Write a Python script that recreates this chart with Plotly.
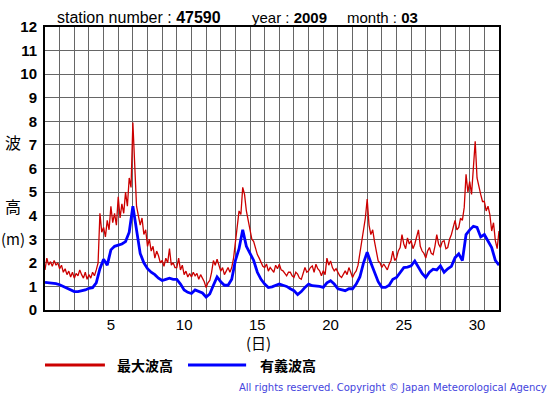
import plotly.graph_objects as go

# maximum wave height, every 3 hours from 1 Mar 00:00 (t = days elapsed)
max_wave = [
    1.7, 2.2, 1.9, 2.05, 1.85, 2.1, 1.9, 2.0,
    1.75, 1.9, 1.6, 1.75, 1.5, 1.65, 1.4, 1.6,
    1.35, 1.55, 1.45, 1.7, 1.5, 1.35, 1.6, 1.3,
    1.5, 1.35, 1.6, 1.45, 1.7, 2.0, 4.1, 3.3,
    3.5, 3.1, 3.8, 3.4, 4.4, 3.7, 4.1, 3.6,
    4.8, 3.9, 4.5, 4.1, 5.0, 4.4, 5.6, 5.2,
    7.95, 5.9, 4.4, 4.0, 3.6, 3.9, 3.2, 3.4,
    2.7, 3.0, 2.5, 2.7, 2.2, 2.5, 2.3, 2.0,
    2.1, 1.85, 2.2, 2.0, 2.6, 1.9, 2.0, 1.8,
    1.8, 2.2, 1.7, 1.9, 1.5, 1.65, 1.4, 1.55,
    1.4, 1.6, 1.45, 1.55, 1.3, 1.5, 1.35, 1.2,
    0.95, 1.15, 1.25, 1.6, 2.1, 1.9, 2.15, 1.9,
    1.65, 1.8, 1.5, 1.65, 1.8, 1.6, 1.8, 2.2,
    2.9, 3.6, 4.2, 4.05, 5.2, 4.9, 4.2, 3.8,
    3.35, 3.0, 2.9, 2.6, 2.35, 2.2, 2.0, 1.85,
    1.8, 1.95, 1.65, 1.8, 1.7, 1.6, 1.9, 1.75,
    1.94, 1.7, 1.66, 1.55, 1.45, 1.6, 1.6, 1.45,
    1.38, 1.6, 1.52, 1.35, 1.3, 1.55, 1.8, 1.6,
    1.66, 1.8, 1.87, 1.6, 1.94, 1.75, 1.66, 1.45,
    1.66, 1.5, 2.2, 1.9, 2.08, 1.8, 1.66, 1.75,
    1.6, 1.45, 1.38, 1.55, 1.66, 1.5, 1.8, 1.6,
    1.38, 1.55, 1.66, 1.9, 2.38, 2.9, 3.5, 3.9,
    4.7, 3.6, 3.2, 3.4, 2.9, 2.4, 2.08, 2.0,
    1.8, 1.95, 1.8, 1.7, 1.94, 2.1, 2.5, 2.1,
    2.2, 2.5, 2.65, 3.2, 2.8, 2.6, 3.06, 2.8,
    2.94, 2.6, 2.8, 3.1, 3.4, 2.7, 2.5, 2.4,
    2.2, 2.5, 2.65, 2.4, 2.35, 2.7, 3.2, 2.8,
    2.65, 2.9, 2.94, 2.6, 2.65, 3.0, 3.2, 3.5,
    3.8, 3.4, 3.5, 3.9, 3.8, 4.35, 5.75, 5.0,
    5.45, 4.9, 6.0, 7.15, 5.6, 5.2, 4.9, 4.6,
    4.6, 4.2, 4.4, 4.05, 3.35, 3.7, 2.94, 2.6,
    3.35,
]
# significant wave height, every 6 hours from 1 Mar 00:00
sig_wave = [
    1.17, 1.15, 1.15, 1.12,
    1.07, 1.0, 0.92, 0.85,
    0.78, 0.78, 0.8, 0.85,
    0.92, 0.95, 1.15, 1.75,
    2.15, 1.9, 2.55, 2.7,
    2.75, 2.8, 2.9, 3.3,
    4.4, 3.3, 2.4, 2.0,
    1.75, 1.6, 1.5, 1.35,
    1.25, 1.3, 1.35, 1.3,
    1.3, 1.1, 0.85, 0.75,
    0.7, 0.85, 0.78, 0.72,
    0.55, 0.68, 1.05, 1.4,
    1.2, 1.05, 1.05, 1.3,
    2.1, 2.6, 3.4, 2.7,
    2.4, 2.1, 1.6, 1.3,
    1.1, 0.95, 0.98, 1.05,
    1.1, 1.05, 1.0, 0.9,
    0.82, 0.65, 0.78, 0.96,
    1.1, 1.03, 1.03, 1.0,
    0.96, 1.15, 1.24, 1.1,
    0.9, 0.85, 0.82, 0.9,
    0.9, 1.1, 1.4, 2.0,
    2.45, 2.0, 1.6, 1.2,
    0.96, 0.96, 1.05, 1.3,
    1.38, 1.6, 1.8, 1.82,
    1.87, 2.08, 1.8, 1.55,
    1.38, 1.6, 1.73, 1.7,
    1.87, 1.6, 1.75, 1.85,
    2.22, 2.38, 2.1, 3.2,
    3.4, 3.55, 3.5, 3.1,
    3.2, 2.95, 2.65, 2.1,
    1.9,
]
day_labels = ["5", "10", "15", "20", "25", "30"]
y_ticks = list(range(0, 13))
title_station = "47590"
title_year = "2009"
title_month = "03"

t_max = [i / 8 for i in range(len(max_wave))]
t_sig = [i / 4 for i in range(len(sig_wave))]

RED = "#cc0000"
BLUE = "#0000ff"
LATIN = "Liberation Sans, Arial, sans-serif"
CJK = "Noto Sans CJK JP, sans-serif"

fig = go.Figure()
fig.add_trace(go.Scatter(x=t_max, y=max_wave, mode="lines",
                         line=dict(color=RED, width=1.3), hoverinfo="skip"))
fig.add_trace(go.Scatter(x=t_sig, y=sig_wave, mode="lines",
                         line=dict(color=BLUE, width=2.8), hoverinfo="skip"))

fig.update_layout(
    width=555, height=395,
    margin=dict(l=45, r=56, t=27, b=85),
    paper_bgcolor="white", plot_bgcolor="white",
    showlegend=False,
    font=dict(family=LATIN, color="black", size=14),
)
fig.update_xaxes(
    range=[0, 31],
    tickmode="array",
    tickvals=[int(d) - 0.5 for d in day_labels],
    ticktext=day_labels,
    showgrid=False,
    ticks="",
    tickfont=dict(family=LATIN, size=15, color="black"),
    minor=dict(tickmode="linear", tick0=0, dtick=1, showgrid=True,
               gridcolor="#666666", gridwidth=1, ticks=""),
    showline=True, linecolor="black", linewidth=2, mirror=True,
    zeroline=False,
)
fig.update_yaxes(
    range=[0, 12],
    tickmode="array",
    tickvals=y_ticks,
    ticktext=["<b>%d</b>" % v for v in y_ticks],
    showgrid=True, gridcolor="#666666", gridwidth=1,
    ticks="",
    ticklabelstandoff=3,
    tickfont=dict(family=LATIN, size=15, color="black"),
    showline=True, linecolor="black", linewidth=2, mirror=True,
    zeroline=False,
)

def ann(text, x, y, xanchor="center", size=14, family=LATIN, color="black"):
    fig.add_annotation(text=text, x=x, y=y, xref="paper", yref="paper",
                       xanchor=xanchor, yanchor="middle", showarrow=False,
                       font=dict(family=family, size=size, color=color))

# header
ann("station number : <b>%s</b>" % title_station, 0.022, 1.035, "left", 16)
ann("year : <b>%s</b>" % title_year, 0.4515, 1.035, "left", 15)
ann("month : <b>%s</b>" % title_month, 0.661, 1.035, "left", 15)

# y title
ann("波", -0.0705, 0.594, size=16, family=CJK)
ann("高", -0.0705, 0.3675, size=16, family=CJK)
ann("(m)", -0.0705, 0.251, size=15, family=CJK)

# x title
ann("(日)", 0.471, -0.114, size=15, family=CJK)

# legend
fig.add_shape(type="line", xref="paper", yref="paper", x0=0.0, x1=0.132,
              y0=-0.194, y1=-0.194, line=dict(color=RED, width=3))
ann("<b>最大波高</b>", 0.154, -0.194, "left", 14, CJK)
fig.add_shape(type="line", xref="paper", yref="paper", x0=0.315, x1=0.443,
              y0=-0.194, y1=-0.194, line=dict(color=BLUE, width=3))
ann("<b>有義波高</b>", 0.469, -0.194, "left", 14, CJK)

# copyright
fig.add_annotation(text="All rights reserved. Copyright © Japan Meteorological Agency",
                   x=1.110, y=-0.2756, xref="paper", yref="paper",
                   xanchor="right", yanchor="middle", showarrow=False,
                   font=dict(family="DejaVu Sans, sans-serif", size=10, color="#4444dd"))

fig.write_html("out.html", config={"displayModeBar": False},
               post_script="document.body.style.margin='0px';")
